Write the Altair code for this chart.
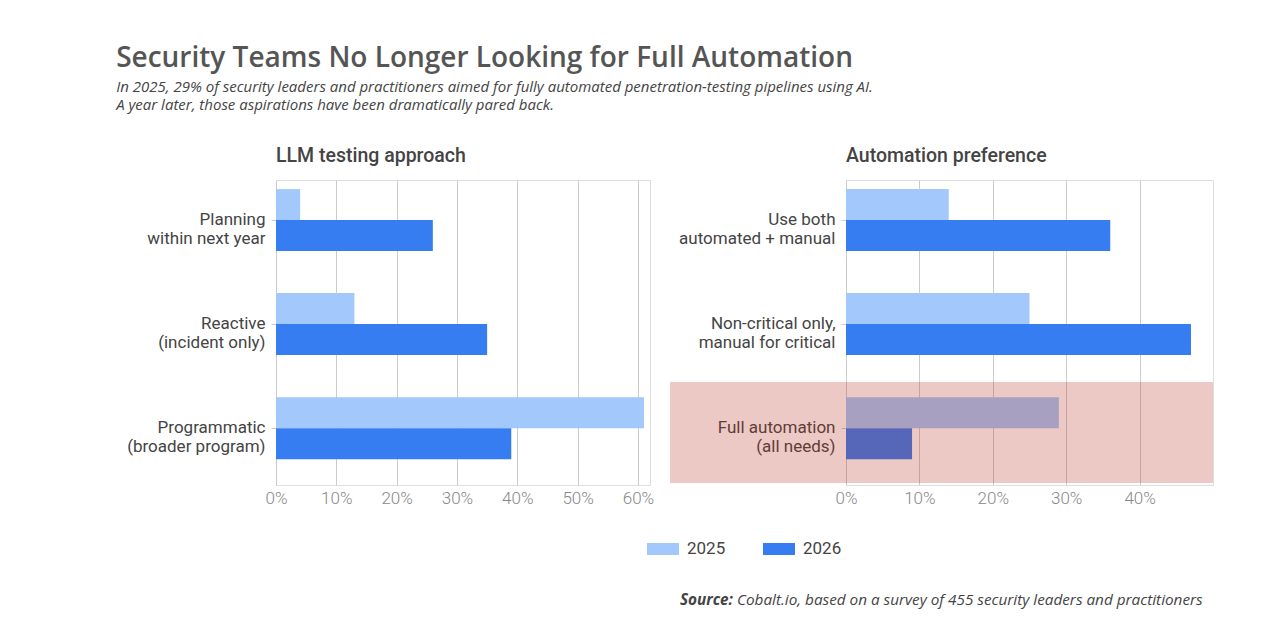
import altair as alt
import pandas as pd

# ---- data ----
years = ["2025", "2026"]
left_categories = ["Planning\nwithin next year", "Reactive\n(incident only)", "Programmatic\n(broader program)"]
left_2025 = [4, 13, 61]
left_2026 = [26, 35, 39]
right_categories = ["Use both\nautomated + manual", "Non-critical only,\nmanual for critical", "Full automation\n(all needs)"]
right_2025 = [14, 25, 29]
right_2026 = [36, 47, 9]
left_ticks = [0, 10, 20, 30, 40, 50, 60]
right_ticks = [0, 10, 20, 30, 40]
highlight_category = ["Full automation\n(all needs)"]
title_text = "Security Teams No Longer Looking for Full Automation"
subtitle_lines = [
    "In 2025, 29% of security leaders and practitioners aimed for fully automated penetration-testing pipelines using AI.",
    "A year later, those aspirations have been dramatically pared back.",
]
source_bold = ["Source:"]
source_rest = ["Cobalt.io, based on a survey of 455 security leaders and practitioners"]

def make_df(cats, v25, v26):
    rows = []
    for c, a, b in zip(cats, v25, v26):
        rows.append({"category": c, "year": "2025", "value": a})
        rows.append({"category": c, "year": "2026", "value": b})
    return pd.DataFrame(rows)

left_df = make_df(left_categories, left_2025, left_2026)
right_df = make_df(right_categories, right_2025, right_2026)

COL25 = "#a3c8fb"
COL26 = "#377df2"
LABEL_COLOR = "#444444"
GRID = "#cccccc"
FS = 17

color_enc = alt.Color(
    "year:N",
    scale=alt.Scale(domain=years, range=[COL25, COL26]),
    legend=alt.Legend(
        title=None,
        orient="none",
        direction="horizontal",
        legendX=371,
        legendY=353,
        symbolType="M-1,-0.375H1V0.375H-1Z",
        symbolSize=1024,
        symbolStrokeWidth=0,
        labelFont="Roboto",
        labelFontSize=FS,
        labelColor=LABEL_COLOR,
        labelOffset=8,
        columnPadding=37,
    ),
)

def bars(df, cats, dmax, ticks):
    y_axis = alt.Axis(
        title=None,
        labelExpr="split(datum.label, '\\n')",
        labelFont="Roboto",
        labelFontSize=FS,
        labelColor=LABEL_COLOR,
        labelLineHeight=19,
        labelPadding=6,
        tickSize=5,
        tickColor=GRID,
        domain=False,
        grid=False,
    )
    x_axis = alt.Axis(
        title=None,
        values=ticks,
        labelExpr="datum.value + '%'",
        labelFont="Roboto",
        labelFontWeight=300,
        labelFontSize=FS,
        labelColor="#888888",
        labelPadding=5,
        labelFlush=False,
        ticks=False,
        domain=False,
        grid=True,
        gridColor=GRID,
        gridWidth=1,
    )
    return (
        alt.Chart(df)
        .mark_bar()
        .encode(
            y=alt.Y(
                "category:N",
                sort=cats,
                axis=y_axis,
                scale=alt.Scale(paddingInner=0.404, paddingOuter=0.168, align=0.26),
            ),
            yOffset=alt.YOffset("year:N", sort=years, scale=alt.Scale(paddingInner=0, paddingOuter=0)),
            x=alt.X("value:Q", axis=x_axis, scale=alt.Scale(domain=[0, dmax], nice=False)),
            color=color_enc,
        )
    )

def panel_title(t):
    return alt.TitleParams(
        text=t,
        anchor="start",
        frame="group",
        font="Roboto",
        fontSize=19.5,
        fontWeight=500,
        color=LABEL_COLOR,
        offset=14,
    )

left = bars(left_df, left_categories, 62, left_ticks).properties(
    width=374, height=305, title=panel_title("LLM testing approach")
)

right_bars = bars(right_df, right_categories, 50, right_ticks)

highlight = (
    alt.Chart(pd.DataFrame({"category": highlight_category}))
    .mark_rect(color="#b42714", opacity=0.25)
    .encode(x=alt.value(-176), x2=alt.value(367), y=alt.value(202), y2=alt.value(303))
)

src_bold = (
    alt.Chart(pd.DataFrame({"t": source_bold}))
    .mark_text(align="right", baseline="middle", font="Open Sans", fontSize=15.3,
               fontStyle="italic", fontWeight="bold", color=LABEL_COLOR)
    .encode(text="t:N", x=alt.value(-113), y=alt.value(420))
)
src_rest = (
    alt.Chart(pd.DataFrame({"t": source_rest}))
    .mark_text(align="left", baseline="middle", font="Open Sans", fontSize=15.3,
               fontStyle="italic", color=LABEL_COLOR)
    .encode(text="t:N", x=alt.value(-109), y=alt.value(420))
)

right = alt.layer(right_bars, highlight, src_bold, src_rest).properties(
    width=367, height=305, title=panel_title("Automation preference")
)

chart = (
    alt.hconcat(left, right, spacing=14)
    .properties(
        title=alt.TitleParams(
            text=title_text,
            subtitle=subtitle_lines,
            anchor="start",
            dx=-10,
            font="Open Sans",
            fontSize=28,
            fontWeight=600,
            color="#555555",
            subtitleFont="Open Sans",
            subtitleFontSize=15,
            subtitleFontStyle="italic",
            subtitleColor=LABEL_COLOR,
            subtitleLineHeight=18,
            subtitlePadding=7,
            offset=32,
        ),
        padding={"left": 116, "top": 45, "right": 20, "bottom": 20},
    )
    .configure_view(stroke=None)
    .configure(background="white")
)

chart.save("out.html", embed_options={"renderer": "svg", "actions": False})
